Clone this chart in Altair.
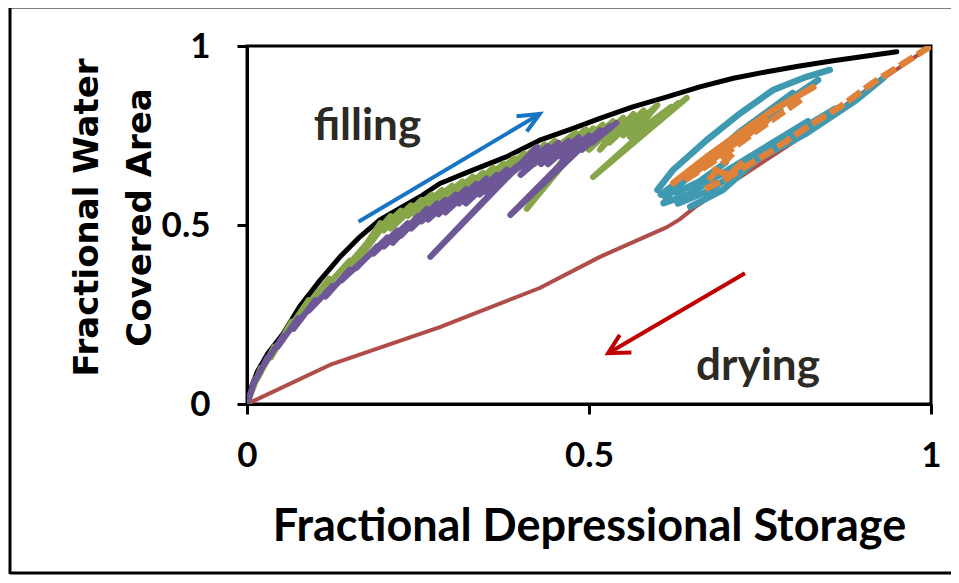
import altair as alt
import pandas as pd

# ---------------- data ----------------
envelope_x = [0, 0.005, 0.015, 0.03, 0.053, 0.077, 0.107, 0.136, 0.165, 0.194, 0.253, 0.282, 0.331,
              0.380, 0.428, 0.477, 0.516, 0.564, 0.614, 0.662, 0.711, 0.760, 0.808, 0.857, 0.906, 0.950]
envelope_y = [0, 0.04, 0.09, 0.14, 0.197, 0.272, 0.346, 0.411, 0.467, 0.514, 0.579, 0.616, 0.654,
              0.691, 0.737, 0.770, 0.798, 0.830, 0.858, 0.886, 0.910, 0.928, 0.944, 0.959, 0.972, 0.984]

drying_x = [0, 0.121, 0.282, 0.428, 0.516, 0.614, 0.632, 0.655, 0.721, 0.808, 0.90, 1.0]
drying_y = [0, 0.109, 0.215, 0.324, 0.411, 0.494, 0.515, 0.55, 0.634, 0.743, 0.87, 1.0]

green_x = [0, 0.02, 0.015, 0.04, 0.035, 0.065, 0.058, 0.09, 0.082, 0.12, 0.112, 0.15, 0.14, 0.18,
           0.165, 0.195, 0.15, 0.21, 0.185, 0.225, 0.20, 0.24, 0.21, 0.255, 0.235, 0.27, 0.245,
           0.285, 0.26, 0.30, 0.27, 0.315, 0.29, 0.33, 0.305, 0.345, 0.32, 0.36, 0.33, 0.375, 0.35,
           0.39, 0.36, 0.405, 0.38, 0.42, 0.39, 0.435, 0.41, 0.45, 0.42, 0.48, 0.45, 0.495, 0.409,
           0.506, 0.47, 0.52, 0.49, 0.535, 0.50, 0.55, 0.516, 0.565, 0.53, 0.58, 0.55, 0.60, 0.56,
           0.62, 0.506, 0.643, 0.60, 0.63]
green_y = [0, 0.10, 0.07, 0.16, 0.13, 0.23, 0.20, 0.29, 0.26, 0.35, 0.32, 0.40, 0.37, 0.46,
           0.42, 0.505, 0.37, 0.525, 0.47, 0.54, 0.485, 0.555, 0.49, 0.57, 0.525, 0.585, 0.53,
           0.598, 0.545, 0.61, 0.55, 0.622, 0.57, 0.635, 0.58, 0.646, 0.59, 0.66, 0.595, 0.672, 0.62,
           0.686, 0.625, 0.70, 0.645, 0.713, 0.65, 0.725, 0.67, 0.735, 0.67, 0.757, 0.69, 0.768, 0.545,
           0.77, 0.70, 0.78, 0.715, 0.79, 0.71, 0.80, 0.71, 0.81, 0.73, 0.82, 0.75, 0.835, 0.745,
           0.83, 0.634, 0.855, 0.79, 0.84]

purple_x = [0, 0.012, 0.008, 0.03, 0.025, 0.053, 0.045, 0.075, 0.068, 0.10, 0.09, 0.125, 0.115,
            0.15, 0.138, 0.175, 0.16, 0.19, 0.17, 0.205, 0.185, 0.22, 0.20, 0.235, 0.213, 0.25,
            0.225, 0.263, 0.24, 0.278, 0.255, 0.29, 0.265, 0.305, 0.28, 0.32, 0.29, 0.335, 0.31,
            0.35, 0.32, 0.365, 0.34, 0.38, 0.35, 0.395, 0.268, 0.424, 0.39, 0.44, 0.40, 0.455, 0.43,
            0.47, 0.44, 0.485, 0.46, 0.50, 0.385, 0.516, 0.49, 0.53, 0.505, 0.54]
purple_y = [0, 0.07, 0.05, 0.13, 0.11, 0.19, 0.16, 0.24, 0.21, 0.29, 0.26, 0.33, 0.30,
            0.375, 0.345, 0.41, 0.38, 0.44, 0.40, 0.465, 0.42, 0.485, 0.44, 0.505, 0.45, 0.525,
            0.47, 0.545, 0.49, 0.56, 0.51, 0.57, 0.515, 0.585, 0.53, 0.60, 0.535, 0.615, 0.56,
            0.63, 0.56, 0.64, 0.585, 0.655, 0.59, 0.665, 0.411, 0.718, 0.65, 0.72, 0.64, 0.73, 0.67,
            0.735, 0.67, 0.745, 0.69, 0.75, 0.528, 0.765, 0.71, 0.775, 0.73, 0.785]

# teal strokes (stroke id per point)
teal_stroke = [1, 1, 1, 1, 1, 1, 1,
               2, 2, 2, 2,
               3, 3, 3, 3,
               4, 4, 4, 4, 4,
               5, 5, 5, 5, 5, 5,
               6, 6, 6,
               7, 7, 7, 7,
               8, 8, 8, 8, 8,
               9, 9, 9]
teal_x = [0.600, 0.623, 0.672, 0.721, 0.769, 0.818, 0.852,
          0.612, 0.660, 0.720, 0.798,
          0.625, 0.670, 0.730, 0.780,
          0.609, 0.645, 0.700, 0.760, 0.820,
          0.648, 0.696, 0.745, 0.818, 0.891, 0.930,
          0.628, 0.660, 0.700,
          0.605, 0.650, 0.710, 0.760,
          0.630, 0.680, 0.730, 0.790, 0.860,
          0.740, 0.800, 0.835]
teal_y = [0.598, 0.654, 0.737, 0.812, 0.877, 0.914, 0.933,
          0.575, 0.660, 0.760, 0.869,
          0.606, 0.670, 0.755, 0.820,
          0.561, 0.585, 0.650, 0.720, 0.790,
          0.551, 0.598, 0.682, 0.756, 0.849, 0.910,
          0.590, 0.620, 0.675,
          0.585, 0.650, 0.740, 0.810,
          0.560, 0.600, 0.670, 0.745, 0.825,
          0.780, 0.860, 0.905]

# orange strokes: solid ones and dashed ones
orange_solid_stroke = [1, 1, 1, 1, 1, 2, 2, 2]
orange_solid_x = [0.623, 0.672, 0.721, 0.769, 0.828, 0.650, 0.700, 0.760]
orange_solid_y = [0.617, 0.690, 0.757, 0.821, 0.885, 0.640, 0.710, 0.790]
orange_dash_stroke = [1, 1, 1, 1, 1, 1, 1, 2, 2, 2, 2, 3, 3, 3, 4, 4, 4, 5, 5, 5]
orange_dash_x = [1.0, 0.915, 0.867, 0.819, 0.769, 0.721, 0.690,
                 0.640, 0.700, 0.750, 0.810,
                 0.670, 0.700, 0.720,
                 0.680, 0.705, 0.730,
                 0.675, 0.690, 0.710]
orange_dash_y = [1.0, 0.897, 0.830, 0.774, 0.709, 0.654, 0.615,
                 0.625, 0.700, 0.770, 0.850,
                 0.600, 0.630, 0.665,
                 0.655, 0.640, 0.685,
                 0.625, 0.660, 0.700]

# arrows: shaft start, tip, then head arm, tip, head arm
blue_arrow_x = [0.163, 0.428, 0.394, 0.428, 0.409]
blue_arrow_y = [0.509, 0.810, 0.804, 0.810, 0.761]
red_arrow_x = [0.728, 0.528, 0.562, 0.528, 0.545]
red_arrow_y = [0.365, 0.142, 0.144, 0.142, 0.193]

label_text = ["filling", "drying"]
label_x = [0.176, 0.747]
label_y = [0.737, 0.067]

x_ticks = [0, 0.5, 1]
y_ticks = [0, 0.5, 1]


def series_df(xs, ys, detail=None):
    d = pd.DataFrame({"x": xs, "y": ys, "i": list(range(len(xs)))})
    d["g"] = detail if detail is not None else 0
    return d


X = alt.X("x:Q", scale=alt.Scale(domain=[0, 1], nice=False, zero=False),
          axis=alt.Axis(values=x_ticks, format="~g", grid=False, labelFlush=False,
                        labelOverlap=False, labelPadding=24,
                        title="Fractional Depressional Storage",
                        titleX=342, titleY=136, titleAlign="center",
                        titleBaseline="alphabetic", titleFontSize=45))
Y = alt.Y("y:Q", scale=alt.Scale(domain=[0, 1], nice=False, zero=False),
          axis=alt.Axis(values=y_ticks, format="~g", grid=False, labelFlush=False,
                        labelOverlap=False, labelPadding=27,
                        title=["Fractional Water", "Covered Area"],
                        titleFont="DejaVu Sans",
                        titleX=-150, titleY=171, titleAngle=270, titleAlign="center",
                        titleBaseline="alphabetic", titleFontSize=34, titleLineHeight=53))


def line_layer(xs, ys, color, width, dash=None, groups=None):
    kw = dict(color=color, strokeWidth=width, strokeCap="round", strokeJoin="round", clip=True)
    if dash:
        kw["strokeDash"] = dash
        kw["strokeCap"] = "butt"
    return alt.Chart(series_df(xs, ys, groups)).mark_line(**kw).encode(
        x=X, y=Y, order="i:Q", detail="g:N")


layers = [
    line_layer(drying_x, drying_y, "#B04D48", 4),
    line_layer(envelope_x, envelope_y, "#000000", 5),
    line_layer(green_x, green_y, "#87A64A", 6),
    line_layer(purple_x, purple_y, "#6E5796", 6),
    line_layer(teal_x, teal_y, "#3F99B0", 6.5, groups=teal_stroke),
    line_layer(orange_solid_x, orange_solid_y, "#DE8139", 6.5, groups=orange_solid_stroke),
    line_layer(orange_dash_x, orange_dash_y, "#DE8139", 6.5, dash=[16, 5],
               groups=orange_dash_stroke),
]

arrow_df = pd.concat([
    series_df(blue_arrow_x[:2], blue_arrow_y[:2], "b1"),
    series_df(blue_arrow_x[2:], blue_arrow_y[2:], "b2"),
])
red_df = pd.concat([
    series_df(red_arrow_x[:2], red_arrow_y[:2], "r1"),
    series_df(red_arrow_x[2:], red_arrow_y[2:], "r2"),
])
layers.append(alt.Chart(arrow_df).mark_line(color="#1874C4", strokeWidth=4, strokeJoin="miter")
              .encode(x=X, y=Y, order="i:Q", detail="g:N"))
layers.append(alt.Chart(red_df).mark_line(color="#C00000", strokeWidth=4, strokeJoin="miter")
              .encode(x=X, y=Y, order="i:Q", detail="g:N"))

text_df = pd.DataFrame({"t": label_text, "x": label_x, "y": label_y})
layers.append(alt.Chart(text_df).mark_text(font="Lato", fontWeight="bold", fontSize=44,
                                           color="#2B2A25", align="center",
                                           baseline="alphabetic")
              .encode(x=X, y=Y, text="t:N"))

# outer figure frame (top, left, bottom edges)
one = pd.DataFrame({"k": [0]})
frame_style = dict(color="#000000", strokeWidth=3)
layers.append(alt.Chart(one).mark_rule(**frame_style).encode(
    x=alt.value(-237), x2=alt.value(720), y=alt.value(-39)))
layers.append(alt.Chart(one).mark_rule(**frame_style).encode(
    x=alt.value(-237), y=alt.value(-40), y2=alt.value(528)))
layers.append(alt.Chart(one).mark_rule(**frame_style).encode(
    x=alt.value(-237), x2=alt.value(720), y=alt.value(527)))

chart = alt.layer(*layers).properties(
    width=684, height=358,
    padding={"left": 239, "top": 38, "right": 20, "bottom": 171},
    autosize=alt.AutoSizeParams(type="none"),
    background="#ffffff",
).configure_view(stroke="#000000", strokeWidth=3).configure_axis(
    labelFont="Lato", labelFontWeight="bold", labelFontSize=35, labelColor="#000000",
    titleFont="Lato", titleFontWeight="bold", titleColor="#000000",
    domainColor="#000000", domainWidth=3, tickColor="#000000", tickWidth=3, tickSize=10,
)

chart.save("out.html", embed_options={"renderer": "svg", "actions": False})
